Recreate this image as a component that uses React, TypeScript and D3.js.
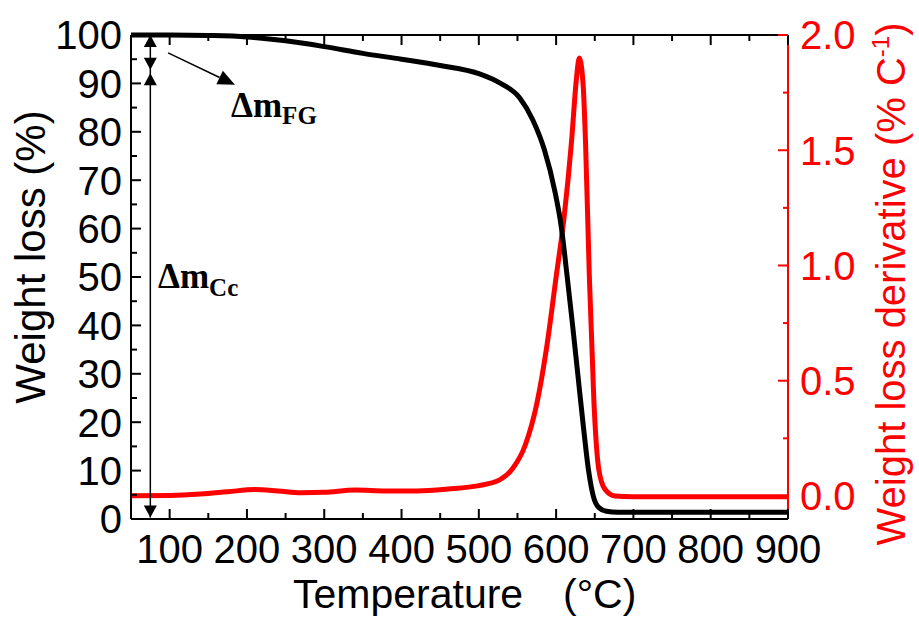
import React from 'react';
import * as d3 from 'd3';

// ---------- data ----------
const tempWeight = [50, 100, 150, 200, 250, 300, 350, 400, 450, 500, 527, 553, 570, 585, 598, 607, 614, 621, 628, 635, 642, 648, 655, 665, 680, 700, 800, 900];
const weightLoss = [100, 100, 99.9, 99.6, 98.8, 97.6, 96.2, 95.0, 93.7, 92.0, 90.1, 87.0, 82.4, 76.2, 68.0, 60.0, 50.5, 40.5, 30.0, 19.5, 10.0, 4.8, 2.4, 1.6, 1.4, 1.4, 1.4, 1.4];

const tempDeriv = [50, 100, 140, 175, 210, 240, 270, 300, 340, 380, 420, 460, 500, 527, 544, 560, 575, 588, 600, 610, 620, 626, 630, 635, 638, 643, 649, 655, 663, 676, 700, 800, 900];
const derivative = [0.001, 0.002, 0.008, 0.018, 0.028, 0.022, 0.014, 0.016, 0.026, 0.022, 0.022, 0.03, 0.045, 0.07, 0.12, 0.22, 0.4, 0.65, 0.95, 1.2, 1.54, 1.8, 1.9, 1.78, 1.54, 0.95, 0.4, 0.12, 0.03, 0.0, -0.003, -0.003, -0.003];

const xMajorTicks = [100, 200, 300, 400, 500, 600, 700, 800, 900];
const xMinorTicks = [50, 150, 250, 350, 450, 550, 650, 750, 850];
const leftMajorTicks = [0, 10, 20, 30, 40, 50, 60, 70, 80, 90, 100];
const leftMinorTicks = [5, 15, 25, 35, 45, 55, 65, 75, 85, 95];
const rightMajorTicks = [0, 0.5, 1.0, 1.5, 2.0];
const rightMinorTicks = [0.25, 0.75, 1.25, 1.75];

// annotation anchors (data coordinates)
const annotTemp = 75;
const fgTop = 100;
const fgBottom = 92.8;
const ccTop = 92.1;
const ccBottom = 0.3;
const pointerFrom = [98, 96.3];
const pointerTo = [184.5, 89.7];

// ---------- layout ----------
const W = 919;
const H = 618;
const left = 131;
const right = 788;
const top = 35;
const bottom = 519;
const RED = '#ff0000';
const SANS = 'Liberation Sans, Arial, sans-serif';
const SERIF = 'Liberation Serif, Times New Roman, serif';

function head(tx: number, ty: number, dx: number, dy: number, len = 12, wid = 13) {
  const n = Math.hypot(dx, dy);
  const ux = dx / n, uy = dy / n;
  const bx = tx - ux * len, by = ty - uy * len;
  const px = -uy * wid / 2, py = ux * wid / 2;
  return `M${tx},${ty}L${bx + px},${by + py}L${bx - px},${by - py}Z`;
}

export default function App() {
  const x = d3.scaleLinear().domain([50, 900]).range([left, right]);
  const yL = d3.scaleLinear().domain([0, 100]).range([bottom, top]);
  const yR = d3.scaleLinear().domain([-0.1, 2.0]).range([bottom, top]);

  const blackLine = d3.line<number>()
    .x((_, i) => x(tempWeight[i]))
    .y((d) => yL(d))
    .curve(d3.curveMonotoneX)(weightLoss) || '';
  const redLine = d3.line<number>()
    .x((_, i) => x(tempDeriv[i]))
    .y((d) => yR(d))
    .curve(d3.curveMonotoneX)(derivative) || '';

  const ax = x(annotTemp);
  const p0x = x(pointerFrom[0]), p0y = yL(pointerFrom[1]);
  const p1x = x(pointerTo[0]), p1y = yL(pointerTo[1]);
  const hl = 17;
  const pdx = p1x - p0x, pdy = p1y - p0y;
  const pn = Math.hypot(pdx, pdy);

  return (
    <svg width={W} height={H} style={{ position: 'absolute', left: 0, top: 0, background: '#fff' }}>
      <rect x={0} y={0} width={W} height={H} fill="#fff" />
      <defs>
        <clipPath id="plotclip">
          <rect x={left} y={top - 5} width={right - left} height={bottom - top + 5} />
        </clipPath>
      </defs>

      {/* curves */}
      <g clipPath="url(#plotclip)">
        <path d={redLine} fill="none" stroke={RED} strokeWidth={5} strokeLinejoin="round" />
        <path d={blackLine} fill="none" stroke="#000" strokeWidth={5} strokeLinejoin="round" />
      </g>

      {/* frame */}
      <line x1={left} x2={right} y1={top} y2={top} stroke="#000" strokeWidth={2} />
      <line x1={left} x2={right} y1={bottom} y2={bottom} stroke="#000" strokeWidth={2} />
      <line x1={left} x2={left} y1={top} y2={bottom} stroke="#000" strokeWidth={2} />
      <line x1={right} x2={right} y1={top} y2={bottom} stroke={RED} strokeWidth={2} />

      {/* x ticks bottom and top */}
      {xMajorTicks.map((t) => (
        <g key={'xm' + t}>
          <line x1={x(t)} x2={x(t)} y1={bottom} y2={bottom - 10} stroke="#000" strokeWidth={2} />
          <line x1={x(t)} x2={x(t)} y1={top} y2={top + 10} stroke="#000" strokeWidth={2} />
          <text x={x(t)} y={563} textAnchor="middle" fontFamily={SANS} fontSize={40} fill="#000">{t}</text>
        </g>
      ))}
      {xMinorTicks.map((t) => (
        <g key={'xn' + t}>
          <line x1={x(t)} x2={x(t)} y1={bottom} y2={bottom - 6} stroke="#000" strokeWidth={2} />
          <line x1={x(t)} x2={x(t)} y1={top} y2={top + 6} stroke="#000" strokeWidth={2} />
        </g>
      ))}

      {/* left ticks */}
      {leftMajorTicks.map((t) => (
        <g key={'lm' + t}>
          <line x1={left} x2={left + 10} y1={yL(t)} y2={yL(t)} stroke="#000" strokeWidth={2} />
          <text x={122} y={yL(t) + 14.3} textAnchor="end" fontFamily={SANS} fontSize={40} fill="#000">{t}</text>
        </g>
      ))}
      {leftMinorTicks.map((t) => (
        <line key={'ln' + t} x1={left} x2={left + 6} y1={yL(t)} y2={yL(t)} stroke="#000" strokeWidth={2} />
      ))}

      {/* right ticks */}
      {rightMajorTicks.map((t) => (
        <g key={'rm' + t}>
          <line x1={right} x2={right - 10} y1={yR(t)} y2={yR(t)} stroke={RED} strokeWidth={2} />
          <text x={800} y={yR(t) + 14.3} textAnchor="start" fontFamily={SANS} fontSize={40} fill={RED}>{t.toFixed(1)}</text>
        </g>
      ))}
      {rightMinorTicks.map((t) => (
        <line key={'rn' + t} x1={right} x2={right - 5} y1={yR(t)} y2={yR(t)} stroke={RED} strokeWidth={2} />
      ))}

      {/* axis titles */}
      <text x={293} y={608} fontFamily={SANS} fontSize={41} fill="#000">Temperature</text>
      <text x={563} y={608} fontFamily={SANS} fontSize={41} fill="#000">(°C)</text>
      <text transform={`translate(45,257) rotate(-90)`} textAnchor="middle" fontFamily={SANS} fontSize={42} fill="#000">Weight loss (%)</text>
      <text transform={`translate(905,284) rotate(-90)`} textAnchor="middle" fontFamily={SANS} fontSize={40} fill={RED}>
        Weight loss derivative (% C<tspan fontSize={24} dy={-16}>-1</tspan><tspan dy={16}>)</tspan>
      </text>

      {/* annotation: vertical double arrows */}
      <line x1={ax} x2={ax} y1={yL(fgTop)} y2={yL(ccBottom)} stroke="#000" strokeWidth={1.5} />
      <path d={head(ax, yL(fgTop), 0, -1)} fill="#000" />
      <path d={head(ax, yL(fgBottom), 0, 1)} fill="#000" />
      <path d={head(ax, yL(ccTop), 0, -1)} fill="#000" />
      <path d={head(ax, yL(ccBottom), 0, 1)} fill="#000" />

      {/* pointer arrow */}
      <line x1={p0x} y1={p0y} x2={p1x - (pdx / pn) * hl} y2={p1y - (pdy / pn) * hl} stroke="#000" strokeWidth={1.5} />
      <path d={head(p1x, p1y, pdx, pdy, hl, 15)} fill="#000" />

      {/* labels */}
      <text x={231} y={117} fontFamily={SERIF} fontWeight="bold" fontSize={35} fill="#000">
        Δm<tspan fontSize={25} dy={7}>FG</tspan>
      </text>
      <text x={158} y={288} fontFamily={SERIF} fontWeight="bold" fontSize={35} fill="#000">
        Δm<tspan fontSize={25} dy={8}>Cc</tspan>
      </text>
    </svg>
  );
}
